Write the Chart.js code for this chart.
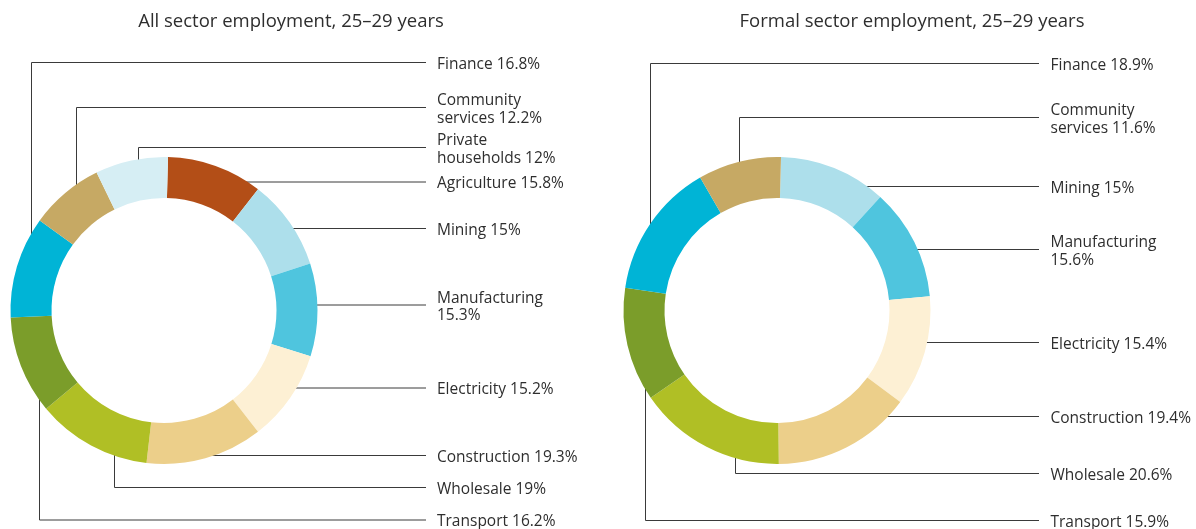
<!DOCTYPE html>
<html>
<head>
<meta charset="utf-8">
<script src="https://cdn.jsdelivr.net/npm/chart.js@4.4.1/dist/chart.umd.min.js"></script>
<style>
  html, body { margin: 0; padding: 0; background: #fff; }
  #wrap { position: relative; width: 1196px; height: 529px; }
  #wrap canvas { position: absolute; left: 0; top: 0; }
</style>
</head>
<body>
<div id="wrap">
  <canvas id="allChart" width="1196" height="529"></canvas>
  <canvas id="formalChart" width="1196" height="529"></canvas>
</div>
<script>
// sector shares, clockwise from 12 o'clock
const allSectors = ['Agriculture', 'Mining', 'Manufacturing', 'Electricity', 'Construction',
    'Wholesale', 'Transport', 'Finance', 'Community services', 'Private households'];
const allValues = [15.8, 15, 15.3, 15.2, 19.3, 19, 16.2, 16.8, 12.2, 12];

const formalSectors = ['Mining', 'Manufacturing', 'Electricity', 'Construction',
    'Wholesale', 'Transport', 'Finance', 'Community services'];
const formalValues = [15, 15.6, 15.4, 19.4, 20.6, 15.9, 18.9, 11.6];

const sectorColors = {
    'Agriculture': '#b34e17',
    'Mining': '#addfeb',
    'Manufacturing': '#4fc5de',
    'Electricity': '#fdf0d4',
    'Construction': '#eccf8a',
    'Wholesale': '#b0bf25',
    'Transport': '#7b9d2a',
    'Finance': '#00b4d6',
    'Community services': '#c6a964',
    'Private households': '#d6eef4'
};

// label placement: y of the leader line, x of the elbow (null = straight in), wrapped or not
const allLabelY = [182, 228.5, 305, 388, 455.5, 487.5, 520, 62.5, 107.5, 147.5];
const allElbowX = [null, null, null, null, null, 114.5, 39.5, 31.5, 76.5, 138.5];
const allWrap = [false, false, true, false, false, false, false, false, true, true];

const formalLabelY = [186.5, 249.5, 342.5, 416.5, 473.5, 520.5, 63.5, 117.5];
const formalElbowX = [null, null, null, null, 735.5, 645.5, 650.5, 739.5];
const formalWrap = [false, true, false, false, false, false, false, true];

const FONT = '"Open Sans", sans-serif';
const TEXT_COLOR = '#2e2e2e';
const LINE_COLOR = '#3a3a3a';

function labelLines(name, value, wrap) {
    const text = name + ' ' + value + '%';
    if (!wrap) return [text];
    const words = name.split(' ');
    if (words.length > 1) return [words[0], words.slice(1).join(' ') + ' ' + value + '%'];
    return [name, value + '%'];
}

// leader lines go under the ring, labels and title on top
const leaderPlugin = {
    id: 'leaders',
    beforeDatasetsDraw(chart, args, opts) {
        const arc = chart.getDatasetMeta(0).data[0];
        const cx = arc.x, cy = arc.y, r = arc.outerRadius;
        const ctx = chart.ctx;
        ctx.save();
        ctx.strokeStyle = LINE_COLOR;
        ctx.lineWidth = 1;
        opts.labelY.forEach((y, i) => {
            const ex = opts.elbowX[i];
            ctx.beginPath();
            ctx.moveTo(opts.lineEndX, y);
            if (ex === null) {
                const dy = y - cy;
                const x = cx + Math.sqrt(Math.max(0, r * r - dy * dy)) - 10;
                ctx.lineTo(x, y);
            } else {
                const dx = ex - cx;
                const h = Math.sqrt(Math.max(0, r * r - dx * dx));
                const yEnd = y < cy ? cy - h + 10 : cy + h - 10;
                ctx.lineTo(ex, y);
                ctx.lineTo(ex, yEnd);
            }
            ctx.stroke();
        });
        ctx.restore();
    },
    afterDatasetsDraw(chart, args, opts) {
        const ctx = chart.ctx;
        const labels = chart.data.labels;
        const values = chart.data.datasets[0].data;
        ctx.save();
        ctx.fillStyle = TEXT_COLOR;
        ctx.textBaseline = 'middle';
        ctx.textAlign = 'left';
        ctx.font = '15.5px ' + FONT;
        labels.forEach((name, i) => {
            const lines = labelLines(name, values[i], opts.wrap[i]);
            const lh = 17.5;
            const top = opts.labelY[i] + 2 - (lines.length - 1) * lh / 2;
            lines.forEach((t, k) => ctx.fillText(t, opts.textX, top + k * lh));
        });
        ctx.textAlign = 'center';
        ctx.font = '18.5px ' + FONT;
        ctx.fillText(opts.title, opts.titleX, 22);
        ctx.restore();
    }
};

function makeDoughnut(id, sectors, values, padding, leaderOpts) {
    return new Chart(document.getElementById(id), {
        type: 'doughnut',
        data: {
            labels: sectors,
            datasets: [{
                data: values,
                backgroundColor: sectors.map(s => sectorColors[s]),
                borderWidth: 0
            }]
        },
        options: {
            responsive: false,
            animation: false,
            events: [],
            rotation: 1.5,
            radius: 153.5,
            cutout: 112.5,
            layout: { padding: padding },
            plugins: {
                legend: { display: false },
                title: { display: false },
                tooltip: { enabled: false },
                leaders: leaderOpts
            }
        },
        plugins: [leaderPlugin]
    });
}

makeDoughnut('allChart', allSectors, allValues,
    { left: 10, right: 878, top: 157, bottom: 65 },
    {
        title: 'All sector employment, 25\u201329 years', titleX: 291,
        labelY: allLabelY, elbowX: allElbowX, wrap: allWrap,
        lineEndX: 426, textX: 437
    });

makeDoughnut('formalChart', formalSectors, formalValues,
    { left: 623, right: 265, top: 157, bottom: 65 },
    {
        title: 'Formal sector employment, 25\u201329 years', titleX: 912,
        labelY: formalLabelY, elbowX: formalElbowX, wrap: formalWrap,
        lineEndX: 1039, textX: 1050.5
    });
</script>
</body>
</html>
